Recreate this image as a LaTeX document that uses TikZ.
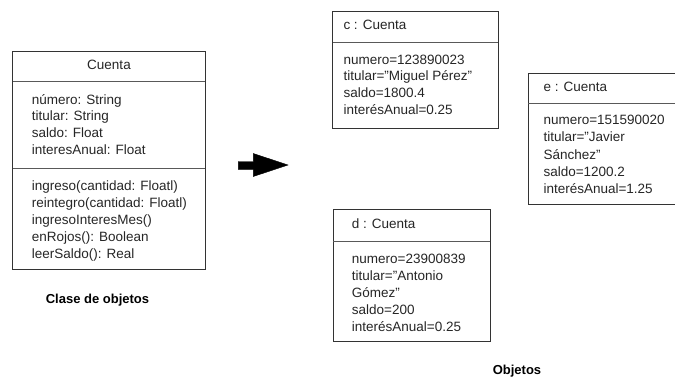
\documentclass[tikz,border=0pt]{standalone}
\usepackage{fontspec}
\setmainfont{Liberation Sans}

\begin{document}
\begin{tikzpicture}[x=1pt,y=-1pt,
  caja/.style={draw=black!80,line width=0.9pt},
  sep/.style={draw=black!65,line width=1pt},
  linea/.style={anchor=base west,inner sep=0pt,text=black!85,font=\fontsize{13.5}{17}\selectfont},
  rotulo/.style={anchor=base,inner sep=0pt,text=black,font=\fontsize{13}{16}\selectfont\bfseries}]
\useasboundingbox (0,0) rectangle (675,376);

% clase Cuenta
\draw[caja] (12.7,51.7) rectangle (205,269);
\draw[sep] (12.7,81) -- (205,81);
\draw[sep] (12.7,168) -- (205,168);
\path (109,69.7) node[linea,anchor=base] (clase) {Cuenta};
\foreach \t [count=\i] in {número: String,titular: String,saldo: Float,interesAnual: Float}
  \path (31.7,{104+16.9*(\i-1)}) node[linea] (atr\i) {\t};
\foreach \t [count=\i] in {ingreso(cantidad: Floatl),reintegro(cantidad: Floatl),ingresoInteresMes(),enRojos(): Boolean,leerSaldo(): Real}
  \path (31.7,{190.4+16.9*(\i-1)}) node[linea] (met\i) {\t};
\path (97.5,303) node[rotulo] (clases) {Clase de objetos};

% flecha
\filldraw[black] (238.3,161.5) -- (253.3,161.5) -- (253.3,153.5) -- (288,165)
  -- (253.3,176.5) -- (253.3,169.5) -- (238.3,169.5) -- cycle;

% objeto c
\draw[caja] (332.7,11.7) rectangle (498,128);
\draw[sep] (332.7,42) -- (498,42);
\path (343.3,29) node[linea] (c) {c : Cuenta};
\foreach \t [count=\i] in {numero=123890023,titular="Miguel Pérez",saldo=1800.4,interésAnual=0.25}
  \path (343.3,{64+16.9*(\i-1)}) node[linea] (c\i) {\t};

% objeto e
\draw[caja] (528.3,73.3) rectangle (680,204);
\draw[sep] (528.3,103) -- (680,103);
\path (543.3,91.4) node[linea] (e) {e : Cuenta};
\foreach \t [count=\i] in {numero=151590020,titular="Javier,Sánchez",saldo=1200.2,interésAnual=1.25}
  \path (543.3,{124.7+17.2*(\i-1)}) node[linea] (e\i) {\t};

% objeto d
\draw[caja] (333.3,209) rectangle (490,341.7);
\draw[sep] (333.3,241.7) -- (490,241.7);
\path (351.7,228) node[linea] (d) {d : Cuenta};
\foreach \t [count=\i] in {numero=23900839,titular="Antonio,Gómez",saldo=200,interésAnual=0.25}
  \path (351.7,{263+17.1*(\i-1)}) node[linea] (d\i) {\t};

\path (517,374) node[rotulo] (objetos) {Objetos};
\end{tikzpicture}
\end{document}
